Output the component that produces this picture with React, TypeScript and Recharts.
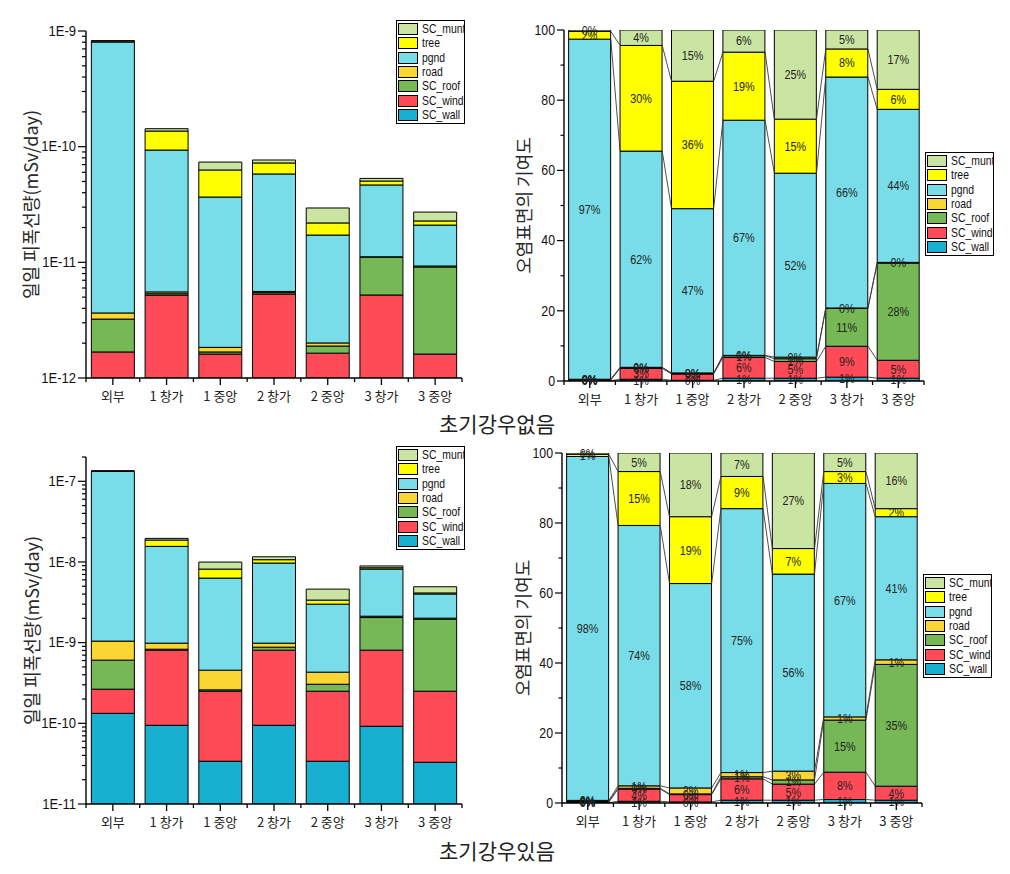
import React from 'react';
import { ComposedChart, Bar, XAxis, YAxis, Line, LabelList, Legend } from 'recharts';

// ---------- categories & series ----------
const categories = ['외부', '1 창가', '1 중앙', '2 창가', '2 중앙', '3 창가', '3 중앙'];
const seriesKeys = ['wall', 'wind', 'roof', 'road', 'pgnd', 'tree', 'munt'];
const seriesNames = ['SC_wall', 'SC_wind', 'SC_roof', 'road', 'pgnd', 'tree', 'SC_munt'];
const seriesColors = ['#17B0D0', '#FF4B57', '#76B756', '#FAD632', '#78DDE8', '#FFFF00', '#C9E5A1'];

// ---------- 초기강우없음 : daily dose (mSv/day) ----------
const noRainWall = [8e-13, 7e-13, 1.5e-13, 6e-13, 2.3e-13, 6e-13, 2.2e-13];
const noRainWind = [0.88e-12, 4.5e-12, 1.46e-12, 4.72e-12, 1.41e-12, 4.62e-12, 1.39e-12];
const noRainRoof = [1.55e-12, 0.15e-12, 0.07e-12, 0.15e-12, 0.25e-12, 5.9e-12, 7.51e-12];
const noRainRoad = [0.42e-12, 0.2e-12, 0.16e-12, 0.13e-12, 0.12e-12, 0.05e-12, 0.18e-12];
const noRainPgnd = [7.99e-10, 8.79e-11, 3.486e-11, 5.25e-11, 1.52e-11, 3.55e-11, 1.17e-11];
const noRainTree = [1.8e-11, 4.3e-11, 2.62e-11, 1.42e-11, 0.47e-11, 0.38e-11, 0.18e-11];
const noRainMunt = [3e-12, 0.65e-11, 1.07e-11, 0.44e-11, 0.76e-11, 0.27e-11, 0.44e-11];

// ---------- 초기강우없음 : contribution (%) ----------
const noRainPctWall = [0.1, 0.5, 0.2, 0.8, 0.8, 1.1, 0.8];
const noRainPctWind = [0.2, 3.1, 1.8, 5.9, 4.75, 8.8, 5.1];
const noRainPctRoof = [0.15, 0.15, 0.15, 0.5, 0.8, 10.8, 27.7];
const noRainPctRoad = [0.05, 0.15, 0.15, 0.1, 0.45, 0.1, 0.2];
const noRainPctPgnd = [96.9, 61.6, 46.8, 67.0, 52.4, 65.8, 43.6];
const noRainPctTree = [2.2, 30.1, 36.3, 19.4, 15.4, 8.0, 5.7];
const noRainPctMunt = [0.4, 4.4, 14.6, 6.3, 25.4, 5.4, 16.9];

// ---------- 초기강우있음 : daily dose (mSv/day) ----------
const rainWall = [1.33e-10, 9.46e-11, 3.39e-11, 9.46e-11, 3.39e-11, 9.2e-11, 3.29e-11];
const rainWind = [1.32e-10, 7.12e-10, 2.16e-10, 7.12e-10, 2.16e-10, 7.15e-10, 2.17e-10];
const rainRoof = [3.42e-10, 2.3e-11, 1.0e-11, 7.2e-11, 5.5e-11, 1.24e-9, 1.71e-9];
const rainRoad = [4.38e-10, 1.56e-10, 1.96e-10, 1.07e-10, 1.26e-10, 8e-11, 5e-11];
const rainPgnd = [1.3196e-7, 1.4614e-8, 5.854e-9, 8.714e-9, 2.569e-9, 6.04e-9, 2.0e-9];
const rainTree = [8e-10, 3.1e-9, 1.85e-9, 9.7e-10, 3.7e-10, 3.0e-10, 1.2e-10];
const rainMunt = [5.5e-10, 9.0e-10, 1.81e-9, 9.3e-10, 1.24e-9, 4.6e-10, 8.0e-10];

// ---------- 초기강우있음 : contribution (%) ----------
const rainPctWall = [0.1, 0.5, 0.3, 0.8, 0.8, 1.0, 0.8];
const rainPctWind = [0.1, 3.5, 2.1, 6.1, 4.6, 7.8, 4.0];
const rainPctRoof = [0.25, 0.2, 0.2, 0.6, 1.2, 14.9, 34.8];
const rainPctRoad = [0.3, 0.7, 1.7, 1.2, 2.5, 0.9, 1.3];
const rainPctPgnd = [98.25, 74.4, 58.4, 75.4, 56.3, 66.7, 40.9];
const rainPctTree = [0.6, 15.4, 19.1, 9.2, 7.3, 3.4, 2.3];
const rainPctMunt = [0.4, 5.3, 18.2, 6.7, 27.3, 5.3, 15.9];

// ---------- axis ticks & texts ----------
const logMajorTop = [1e-12, 1e-11, 1e-10, 1e-9];
const logMajorBottom = [1e-11, 1e-10, 1e-9, 1e-8, 1e-7];
const logMinorMultipliers = [2, 3, 4, 5, 6, 7, 8, 9];
const pctTicks = [0, 10, 20, 30, 40, 50, 60, 70, 80, 90, 100];
const captionTop = '초기강우없음';
const captionBottom = '초기강우있음';
const doseTitle = '일일 피폭선량(mSv/day)';
const pctTitle = '오염표면의 기여도';

const FONT = "'Liberation Sans','Arial','Noto Sans CJK KR',sans-serif";
const KFONT = "'Noto Sans CJK KR','Liberation Sans',sans-serif";
const PCT_GAP = 0.09;

const makeRows = (cols: number[][]) =>
  categories.map((name, i) => {
    const r: any = { name };
    seriesKeys.forEach((k, j) => (r[k] = cols[j][i]));
    return r;
  });

const makeLogTicks = (majors: number[], extraTop: number[]) => {
  const t: number[] = [];
  majors.forEach((m, idx) => {
    t.push(m);
    if (idx < majors.length - 1) logMinorMultipliers.forEach((k) => t.push(m * k));
  });
  return t.concat(extraTop);
};

const makeConnectors = (cols: number[][]) => {
  const out: any[][] = [];
  const cum = categories.map(() => 0);
  for (let j = 0; j < cols.length - 1; j++) {
    cols[j].forEach((v, i) => (cum[i] += v));
    const pts: any[] = [];
    for (let i = 0; i < categories.length - 1; i++) {
      pts.push({ x: i + 1 - PCT_GAP, y: cum[i] });
      pts.push({ x: i + 1 + PCT_GAP, y: cum[i + 1] });
      pts.push({ x: i + 1 + PCT_GAP, y: null });
    }
    out.push(pts);
  }
  return out;
};

const noRainAbs = makeRows([noRainWall, noRainWind, noRainRoof, noRainRoad, noRainPgnd, noRainTree, noRainMunt]);
const noRainPctCols = [noRainPctWall, noRainPctWind, noRainPctRoof, noRainPctRoad, noRainPctPgnd, noRainPctTree, noRainPctMunt];
const noRainPct = makeRows(noRainPctCols);
const rainAbs = makeRows([rainWall, rainWind, rainRoof, rainRoad, rainPgnd, rainTree, rainMunt]);
const rainPctCols = [rainPctWall, rainPctWind, rainPctRoof, rainPctRoad, rainPctPgnd, rainPctTree, rainPctMunt];
const rainPct = makeRows(rainPctCols);

// narrow text helper (mimics a condensed face)
const NarrowText = ({ x, y, anchor, size, sx, children, fill }: any) => (
  <text transform={`translate(${x},${y}) scale(${sx},1)`} x={0} y={0} textAnchor={anchor} dominantBaseline="central" fontSize={size} fontFamily={FONT} fill={fill || '#111'}>
    {children}
  </text>
);

// ---------- ticks ----------
const CatTick = (props: any) => {
  const { x, y, payload, index } = props;
  const half = payload && payload.offset ? payload.offset : 26;
  const last = index === categories.length - 1;
  return (
    <g>
      <line x1={x} x2={x} y1={y} y2={y + 7} stroke="#000" strokeWidth={1.3} />
      <line x1={x - half} x2={x - half} y1={y} y2={y + 4} stroke="#000" strokeWidth={1.3} />
      {last && <line x1={x + half} x2={x + half} y1={y} y2={y + 4} stroke="#000" strokeWidth={1.3} />}
      <text x={x} y={y + 17} textAnchor="middle" dominantBaseline="central" fontSize={13} fontFamily={KFONT} fill="#222">
        {payload.value}
      </text>
    </g>
  );
};

const LogTick = (props: any) => {
  const { x, y, payload } = props;
  const lg = Math.log10(payload.value);
  const major = Math.abs(lg - Math.round(lg)) < 1e-6;
  return (
    <g>
      <line x1={x} x2={x - (major ? 8 : 4)} y1={y} y2={y} stroke="#000" strokeWidth={1.2} />
      {major && (
        <NarrowText x={x - 10} y={y} anchor="end" size={14.5} sx={0.9}>
          {`1E${Math.round(lg)}`}
        </NarrowText>
      )}
    </g>
  );
};

const PctTick = (props: any) => {
  const { x, y, payload } = props;
  const major = payload.value % 20 === 0;
  return (
    <g>
      <line x1={x} x2={x - (major ? 7 : 3.5)} y1={y} y2={y} stroke="#000" strokeWidth={1.2} />
      {major && (
        <NarrowText x={x - 9} y={y} anchor="end" size={14.5} sx={0.85}>
          {payload.value}
        </NarrowText>
      )}
    </g>
  );
};

const PctLabel = (props: any) => {
  const { x, y, width, height, value } = props;
  return (
    <NarrowText x={x + width / 2} y={y + height / 2} anchor="middle" size={13.5} sx={0.8} fill="#222">
      {`${Math.round(Number(value))}%`}
    </NarrowText>
  );
};

const axisTitle = (text: string, dist: number) => (p: any) => {
  const vb = p.viewBox || {};
  const cx = vb.x + vb.width - dist;
  const cy = vb.y + vb.height / 2;
  return (
    <text x={cx} y={cy} transform={`rotate(-90 ${cx} ${cy})`} textAnchor="middle" dominantBaseline="central" fontSize={18} fontFamily={KFONT} fill="#2a2a2a">
      {text}
    </text>
  );
};

const LegendBox = () => {
  const items = seriesKeys.map((k, j) => ({ name: seriesNames[j], color: seriesColors[j] })).reverse();
  return (
    <div style={{ width: 69, border: '1.3px solid #000', background: '#fff', padding: '1px 0 1px 1px', overflow: 'hidden', boxSizing: 'border-box' }}>
      {items.map((it) => (
        <div key={it.name} style={{ display: 'flex', alignItems: 'center', height: 14.3, whiteSpace: 'nowrap' }}>
          <div style={{ width: 20, height: 12, background: it.color, border: '1px solid #000', boxSizing: 'border-box', marginRight: 4, flex: 'none' }} />
          <span style={{ display: 'inline-block', fontFamily: FONT, fontSize: 13, color: '#111', lineHeight: '14px', transform: 'scaleX(0.8)', transformOrigin: 'left center' }}>{it.name}</span>
        </div>
      ))}
    </div>
  );
};

const axisLine = { stroke: '#000', strokeWidth: 1.4 };

function LogPanel(p: any) {
  return (
    <ComposedChart width={p.width} height={p.height} data={p.rows} margin={p.margin} barCategoryGap="10%">
      <XAxis xAxisId="cat" dataKey="name" type="category" axisLine={axisLine} tickLine={false} tickSize={0} tickMargin={0} tick={<CatTick />} interval={0} height={30} />
      <YAxis type="number" scale="log" domain={p.domain} allowDataOverflow ticks={p.ticks} interval={0} width={p.yWidth} axisLine={axisLine} tickLine={false} tickSize={0} tickMargin={0} tick={<LogTick />} label={axisTitle(doseTitle, p.titleDist)} />
      {seriesKeys.map((k, j) => (
        <Bar key={k} xAxisId="cat" dataKey={k} name={seriesNames[j]} stackId="s" fill={seriesColors[j]} stroke="#000" strokeWidth={1} isAnimationActive={false} />
      ))}
      <Legend layout="vertical" align="center" verticalAlign="middle" wrapperStyle={{ left: p.legend[0], top: p.legend[1], width: 70 }} content={() => <LegendBox />} />
    </ComposedChart>
  );
}

function PctPanel(p: any) {
  return (
    <ComposedChart width={p.width} height={p.height} data={p.rows} margin={p.margin} barCategoryGap="9%">
      <XAxis xAxisId="cat" dataKey="name" type="category" axisLine={axisLine} tickLine={false} tickSize={0} tickMargin={0} tick={<CatTick />} interval={0} height={30} />
      <XAxis xAxisId="num" type="number" dataKey="x" domain={[0, 7]} allowDataOverflow hide />
      <YAxis type="number" domain={[0, 100]} allowDataOverflow ticks={pctTicks} interval={0} width={p.yWidth} axisLine={axisLine} tickLine={false} tickSize={0} tickMargin={0} tick={<PctTick />} label={axisTitle(pctTitle, p.titleDist)} />
      {p.connectors.map((pts: any[], j: number) => (
        <Line key={'c' + j} xAxisId="num" data={pts} dataKey="y" stroke="#3a3a3a" strokeWidth={0.9} dot={false} activeDot={false} isAnimationActive={false} legendType="none" connectNulls={false} />
      ))}
      {seriesKeys.map((k, j) => (
        <Bar key={k} xAxisId="cat" dataKey={k} name={seriesNames[j]} stackId="s" fill={seriesColors[j]} stroke="#000" strokeWidth={1} isAnimationActive={false}>
          <LabelList dataKey={k} position="center" content={<PctLabel />} />
        </Bar>
      ))}
      <Legend layout="vertical" align="center" verticalAlign="middle" wrapperStyle={{ left: p.legend[0], top: p.legend[1], width: 70 }} content={() => <LegendBox />} />
    </ComposedChart>
  );
}

export default function App() {
  const captionStyle: React.CSSProperties = {
    position: 'absolute', left: 347, width: 300, textAlign: 'center', fontFamily: KFONT, fontSize: 21, color: '#222', lineHeight: '22px',
  };
  return (
    <div style={{ position: 'absolute', left: 0, top: 0, width: 1010, height: 874, background: '#fff', overflow: 'hidden' }}>
      <div style={{ position: 'absolute', left: 0, top: 0 }}>
        <LogPanel width={480} height={420} rows={noRainAbs} margin={{ top: 31, right: 18, bottom: 12, left: 0 }} yWidth={86}
          domain={[1e-12, 1e-9]} ticks={makeLogTicks(logMajorTop, [])} titleDist={56} legend={[396, 20]} />
      </div>
      <div style={{ position: 'absolute', left: 490, top: 0 }}>
        <PctPanel width={520} height={420} rows={noRainPct} connectors={makeConnectors(noRainPctCols)} margin={{ top: 30, right: 86, bottom: 9, left: 0 }} yWidth={74}
          titleDist={41} legend={[435, 152]} />
      </div>
      <div style={{ position: 'absolute', left: 0, top: 420 }}>
        <LogPanel width={480} height={450} rows={rainAbs} margin={{ top: 37, right: 18, bottom: 36, left: 0 }} yWidth={86}
          domain={[1e-11, 2e-7]} ticks={makeLogTicks(logMajorBottom, [2e-7])} titleDist={55} legend={[396, 26]} />
      </div>
      <div style={{ position: 'absolute', left: 490, top: 420 }}>
        <PctPanel width={520} height={450} rows={rainPct} connectors={makeConnectors(rainPctCols)} margin={{ top: 33, right: 88, bottom: 37, left: 0 }} yWidth={72}
          titleDist={40} legend={[433, 154]} />
      </div>
      <div style={{ ...captionStyle, top: 412 }}>{captionTop}</div>
      <div style={{ ...captionStyle, top: 839 }}>{captionBottom}</div>
    </div>
  );
}
